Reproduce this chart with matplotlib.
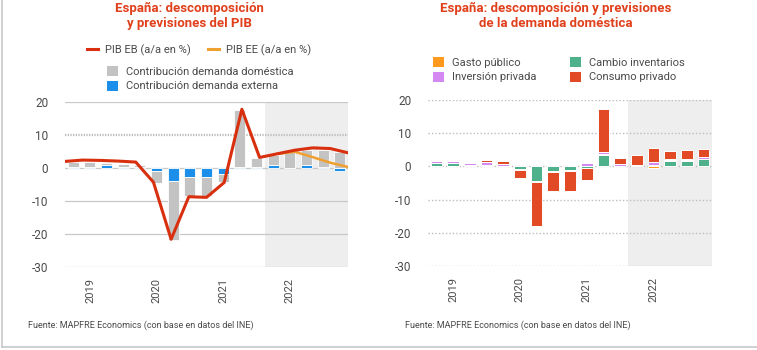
import numpy as np
import matplotlib
matplotlib.use("Agg")
import matplotlib.pyplot as plt
from matplotlib.lines import Line2D
from matplotlib.patches import Patch

plt.rcParams['font.family'] = ['Roboto', 'DejaVu Sans']

# ---------------- data ----------------
n_q = 17
year_ticks = [1, 5, 9, 13]
year_labels = ['2019', '2020', '2021', '2022']

# Left chart: PIB decomposition
dom_contrib = [1.5, 1.4, 0.5, 1.0, 0.6, -3.4, -17.9, -6.0, -6.0, -2.3, 17.4, 2.9, 3.2, 4.7, 4.8, 5.2, 4.8]
ext_contrib = [0.2, 0.3, 0.9, 0.2, 0.2, -1.0, -3.8, -2.6, -2.6, -1.8, 0.2, 0.2, 0.8, 0.1, 0.8, 0.2, -1.0]
pib_eb = [2.0, 2.4, 2.3, 2.1, 1.8, -4.3, -21.6, -8.7, -8.9, -4.4, 17.8, 3.2, 4.3, 5.4, 6.1, 5.9, 4.6]
pib_ee = [4.3, 4.9, 3.3, 1.6, 0.3]   # from quarter index 12 on

# Right chart: domestic demand decomposition
inventarios = [1.0, 1.0, 0.2, 0.3, 0.1, -0.9, -4.4, -1.4, -1.2, -0.4, 3.3, 0.1, 0.0, 0.3, 1.5, 1.6, 2.1]
gasto_pub   = [0.1, 0.1, 0.2, 0.2, 0.1, -0.2, -0.2, -0.2, -0.3, -0.1, 0.3, 0.1, 0.1, -0.4, 0.3, 0.2, 0.2]
inversion   = [0.4, 0.4, 0.5, 0.8, 0.4, -0.1, -0.1, 0.4, 0.4, 1.0, 0.8, 0.4, 0.2, 1.0, 0.5, 0.4, 0.5]
consumo     = [0.5, 0.5, 0.2, 0.5, 0.9, -2.4, -13.3, -5.7, -5.8, -3.7, 12.9, 2.0, 3.1, 4.2, 2.4, 2.8, 2.3]

forecast_start = 11.5

# ---------------- style ----------------
RED_T = '#E0401C'
GRAY_BAR = '#C3C3C3'
BLUE = '#1C8FEA'
RED_L = '#D8300E'
ORANGE_L = '#F0A030'
C_GASTO = '#FF9A1E'
C_INV = '#4FB08C'
C_INVER = '#D388F2'
C_CONS = '#E24A26'
TXT = '#4A4A4A'
SHADE = '#EEEEEE'

fig = plt.figure(figsize=(7.57, 3.5), dpi=100)

def fx(px):
    return px / 757.0

def fy(py):
    return 1 - py / 350.0

axL = fig.add_axes([fx(65), fy(267), fx(283), fy(102) - fy(267)])
axR = fig.add_axes([fx(428), fy(266), fx(284), fy(100) - fy(266)])

x = np.arange(n_q)

def style_axis(ax):
    ax.set_xlim(-0.5, n_q - 0.5)
    ax.set_ylim(-30, 20)
    for s in ax.spines.values():
        s.set_visible(False)
    ax.set_yticks([-30, -20, -10, 0, 10, 20])
    ax.set_yticklabels(['-30', '-20', '-10', '0', '10', '20'])
    ax.set_xticks(year_ticks)
    ax.set_xticklabels(year_labels, rotation=90)
    ax.tick_params(axis='both', length=0, labelsize=8.5, colors=TXT)
    ax.tick_params(axis='y', pad=12)
    ax.tick_params(axis='x', pad=8, labelsize=8)
    ax.axvspan(forecast_start, n_q - 0.5, color=SHADE, zorder=0, lw=0)

# ---- left ----
style_axis(axL)
for v in [-30, -20, -10, 0, 20]:
    axL.axhline(v, color='#C8C8C8', lw=0.9, zorder=1)
axL.axhline(10, color='#BDBDBD', lw=1.6, ls=(0, (0.6, 0.6)), zorder=1)

ext = np.array(ext_contrib)
dom = np.array(dom_contrib)
dom_bottom = np.where(np.sign(ext) == np.sign(dom), ext, 0.0)
axL.bar(x, ext, width=0.66, color=BLUE, edgecolor='white', lw=0.6, zorder=2)
axL.bar(x, dom, bottom=dom_bottom, width=0.66, color=GRAY_BAR, edgecolor='white', lw=0.6, zorder=2)

xl = np.linspace(-0.5, n_q - 0.5, n_q)
axL.plot(xl[12:], pib_ee, color=ORANGE_L, lw=1.8, zorder=3, solid_joinstyle='round')
axL.plot(xl, pib_eb, color=RED_L, lw=2.2, zorder=4, solid_joinstyle='round')

# ---- right ----
style_axis(axR)
for v in [-30, -20, -10, 0, 10, 20]:
    axR.axhline(v, color='#BDBDBD', lw=1.0, ls=(0, (1, 1.5)), zorder=1)

pos_bottom = np.zeros(n_q)
neg_bottom = np.zeros(n_q)
for vals, col in [(inventarios, C_INV), (gasto_pub, C_GASTO), (inversion, C_INVER), (consumo, C_CONS)]:
    v = np.array(vals)
    b = np.where(v >= 0, pos_bottom, neg_bottom)
    axR.bar(x, v, bottom=b, width=0.7, color=col, edgecolor='white', lw=0.7, zorder=2)
    pos_bottom = pos_bottom + np.where(v >= 0, v, 0)
    neg_bottom = neg_bottom + np.where(v < 0, v, 0)

# ---- titles ----
fig.text(fx(189), fy(16), 'España: descomposición\ny previsiones del PIB', ha='center', va='center',
         fontsize=9.5, fontweight='bold', color=RED_T, linespacing=1.15)
fig.text(fx(556), fy(16), 'España: descomposición y previsiones\nde la demanda doméstica', ha='center', va='center',
         fontsize=9.5, fontweight='bold', color=RED_T, linespacing=1.15)

# ---- legends ----
h1 = [Line2D([0], [0], color=RED_L, lw=2.2), Line2D([0], [0], color=ORANGE_L, lw=2.2)]
leg1 = fig.legend(h1, ['PIB EB (a/a en %)', 'PIB EE (a/a en %)'], ncol=2, loc='center',
                  bbox_to_anchor=(fx(199), fy(50)), frameon=False, fontsize=8, handlelength=1.0,
                  handletextpad=0.6, columnspacing=1.6, labelcolor=TXT, borderpad=0, borderaxespad=0)
h2 = [Patch(facecolor=GRAY_BAR), Patch(facecolor=BLUE)]
leg2 = fig.legend(h2, ['Contribución demanda doméstica', 'Contribución demanda externa'], ncol=1,
                  loc='upper left', bbox_to_anchor=(fx(107), fy(66)), frameon=False, fontsize=8,
                  handlelength=1.0, handleheight=1.0, handletextpad=0.7, labelspacing=0.35,
                  labelcolor=TXT, borderpad=0, borderaxespad=0)
h3 = [Patch(facecolor=C_GASTO), Patch(facecolor=C_INVER), Patch(facecolor=C_INV), Patch(facecolor=C_CONS)]
leg3 = fig.legend(h3, ['Gasto público', 'Inversión privada', 'Cambio inventarios', 'Consumo privado'], ncol=2,
                  loc='upper left', bbox_to_anchor=(fx(433), fy(57)), frameon=False, fontsize=8,
                  handlelength=1.0, handleheight=1.0, handletextpad=0.7, labelspacing=0.35,
                  columnspacing=3.0, labelcolor=TXT, borderpad=0, borderaxespad=0)

# ---- sources ----
fig.text(fx(28), fy(325), 'Fuente: MAPFRE Economics (con base en datos del INE)', fontsize=6.5,
         color=TXT, va='center')
fig.text(fx(405), fy(325), 'Fuente: MAPFRE Economics (con base en datos del INE)', fontsize=6.5,
         color=TXT, va='center')

# ---- frame ----
fig.add_artist(Line2D([fx(2), fx(2)], [fy(0), fy(347)], color='#C8C8C8', lw=1.2))
fig.add_artist(Line2D([fx(2), fx(757)], [fy(347), fy(347)], color='#C8C8C8', lw=1.2))

fig.savefig('out.png', dpi=100)
